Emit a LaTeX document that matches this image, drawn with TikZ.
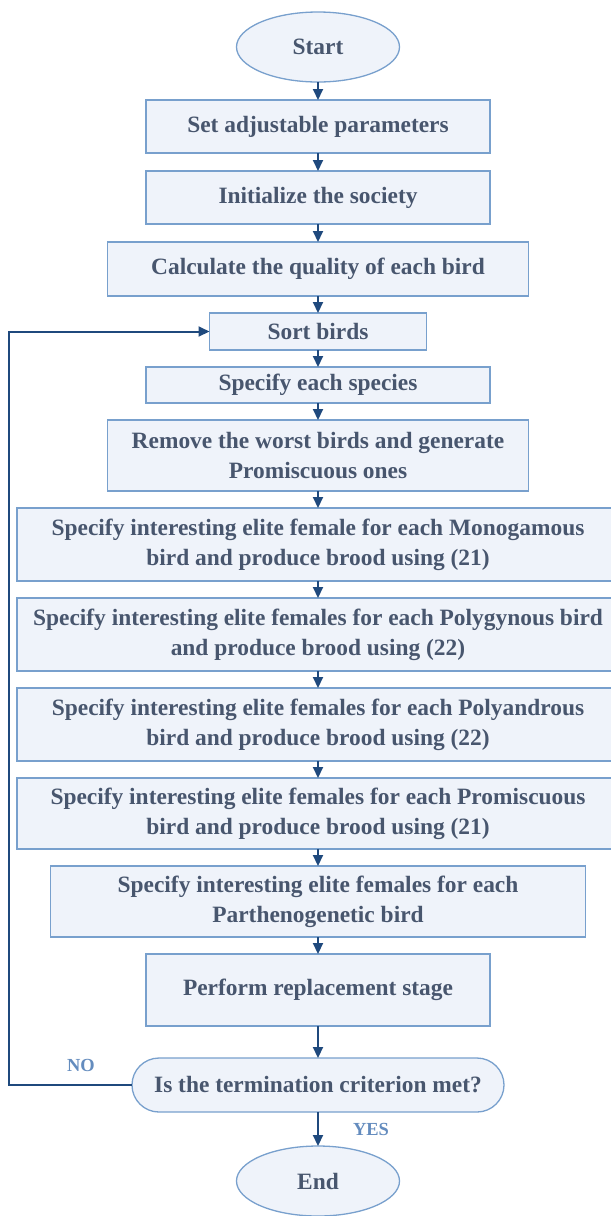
\documentclass[tikz,border=0pt]{standalone}
\usepackage{fontspec}
\setmainfont{Liberation Serif}
\usetikzlibrary{positioning,shapes.geometric,arrows.meta}

\definecolor{boxline}{RGB}{120,160,205}
\definecolor{boxfill}{RGB}{239,243,250}
\definecolor{txtcol}{RGB}{72,86,110}
\definecolor{arrcol}{RGB}{31,73,125}
\definecolor{labcol}{RGB}{100,140,190}

\begin{document}
\begin{tikzpicture}[x=1bp, y=1bp, node distance=17bp,
    box/.style={rectangle, draw=boxline, line width=1.3bp, fill=boxfill,
                text=txtcol, align=center, inner sep=2bp, outer sep=0pt,
                font=\bfseries\fontsize{23.5}{30}\selectfont},
    term/.style={box, ellipse, minimum width=163bp, minimum height=70bp},
    flow/.style={draw=arrcol, line width=2bp, -{Triangle[width=10bp,length=11bp]}},
    answer/.style={text=labcol, font=\bfseries\fontsize{18.5}{20}\selectfont}]

  \useasboundingbox (0,0) rectangle (611,-1216);

  \node[term] (start) at (318,-47) {Start};
  \node[box, minimum width=344bp, minimum height=53bp] (params) [below=18bp of start] {Set adjustable parameters};
  \node[box, minimum width=344bp, minimum height=53bp] (init) [below=18bp of params] {Initialize the society};
  \node[box, minimum width=421bp, minimum height=54bp] (quality) [below=18bp of init] {Calculate the quality of each bird};
  \node[box, minimum width=217bp, minimum height=37bp] (sort) [below=of quality] {Sort birds};
  \node[box, minimum width=344bp, minimum height=36bp] (species) [below=of sort] {Specify each species};
  \node[box, minimum width=421bp, minimum height=71bp] (remove) [below=of species] {Remove the worst birds and generate\\Promiscuous ones};
  \node[box, minimum width=602bp, minimum height=73bp] (mono) [below=of remove] {Specify interesting elite female for each Monogamous\\bird and produce brood using (21)};
  \node[box, minimum width=602bp, minimum height=73bp] (polyg) [below=of mono] {Specify interesting elite females for each Polygynous bird\\and produce brood using (22)};
  \node[box, minimum width=602bp, minimum height=73bp] (polya) [below=of polyg] {Specify interesting elite females for each Polyandrous\\bird and produce brood using (22)};
  \node[box, minimum width=602bp, minimum height=71bp] (promis) [below=of polya] {Specify interesting elite females for each Promiscuous\\bird and produce brood using (21)};
  \node[box, minimum width=535bp, minimum height=71bp] (parth) [below=of promis] {Specify interesting elite females for each\\Parthenogenetic bird};
  \node[box, minimum width=344bp, minimum height=72bp] (replace) [below=of parth] {Perform replacement stage};
  \node[box, rounded corners=27bp, minimum width=372bp, minimum height=54bp] (check) [below=32bp of replace] {Is the termination criterion met?};
  \node[term] (end) [below=34bp of check] {End};

  \node[answer] (no) at (81,-1065) {NO};
  \node[answer] (yes) at (371,-1129) {YES};
  \coordinate (loop) at (9,0);

  \draw[flow] (start) -- (params);
  \draw[flow] (params) -- (init);
  \draw[flow] (init) -- (quality);
  \draw[flow] (quality) -- (sort);
  \draw[flow] (sort) -- (species);
  \draw[flow] (species) -- (remove);
  \draw[flow] (remove) -- (mono);
  \draw[flow] (mono) -- (polyg);
  \draw[flow] (polyg) -- (polya);
  \draw[flow] (polya) -- (promis);
  \draw[flow] (promis) -- (parth);
  \draw[flow] (parth) -- (replace);
  \draw[flow] (replace) -- (check);
  \draw[flow] (check) -- (end);
  \draw[flow] (check.west) -- (check.west -| loop) -- (sort.west -| loop) -- (sort.west);

\end{tikzpicture}
\end{document}
